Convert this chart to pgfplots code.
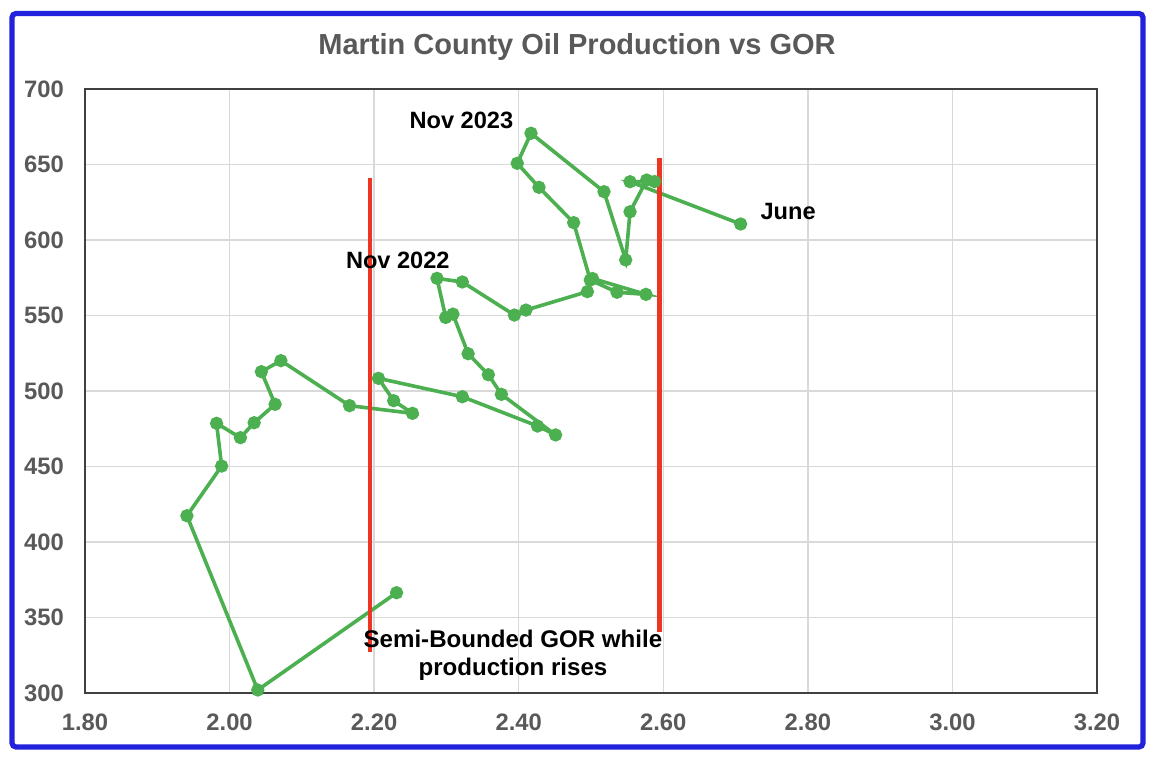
\documentclass[border=0pt]{standalone}
\usepackage{fontspec}
\setmainfont{Liberation Sans}
\usepackage{pgfplots}
\pgfplotsset{compat=1.18}
\definecolor{gorgreen}{HTML}{4CAF50}
\definecolor{barred}{HTML}{EE3524}
\definecolor{frameblue}{HTML}{2222DD}
\definecolor{ticktext}{HTML}{595959}
\definecolor{gridgray}{HTML}{D9D9D9}

\begin{document}
\begin{tikzpicture}
% page size: 1156x762 px at 0.5pt per px, axis origin at px (85,693)
\useasboundingbox (-42.5pt,-34.5pt) rectangle (535.5pt,346.5pt);
\begin{axis}[
    scale only axis,
    width=506pt, height=302pt,
    xmin=1.80, xmax=3.20,
    ymin=300, ymax=700,
    xtick={1.8,2.0,...,3.21},
    ytick={300,350,...,700},
    /pgf/number format/assume math mode=true,
    xticklabel style={/pgf/number format/.cd,fixed,fixed zerofill,precision=2,/tikz/.cd,
        font=\bfseries\fontsize{11.9}{13}\selectfont, text=ticktext, yshift=-7pt},
    yticklabel style={font=\bfseries\fontsize{11.9}{13}\selectfont, text=ticktext, xshift=-7pt},
    major tick length=0pt,
    grid=major,
    grid style={gridgray, line width=0.75pt},
    axis line style={black!75, line width=0.7pt},
    clip=false,
]
% GOR vs oil production, monthly path ending June
\addplot[gorgreen, line width=1.8pt, mark=*, mark size=2.4pt,
         mark options={fill=gorgreen, draw=gorgreen}] coordinates {
 (2.231,366.4) (2.039,302.0) (1.941,417.4) (1.989,450.3) (1.982,478.6)
 (2.015,469.1) (2.034,479.0) (2.063,491.2) (2.044,512.8) (2.071,520.1)
 (2.166,490.3) (2.253,485.2) (2.227,493.6) (2.206,508.4) (2.322,496.2)
 (2.426,476.8) (2.451,470.9) (2.376,497.8) (2.358,510.8) (2.330,524.7)
 (2.309,550.9) (2.299,548.7) (2.287,574.6) (2.322,572.2) (2.394,550.3)
 (2.410,553.6) (2.495,565.8) (2.502,574.5) (2.576,564.0) (2.536,565.4)
 (2.499,573.5) (2.476,611.5) (2.428,634.9) (2.398,650.8) (2.417,670.7)
 (2.518,632.0) (2.548,586.8) (2.554,618.7) (2.577,639.7) (2.588,638.7)
 (2.554,638.6) (2.707,610.6)
};
% bounding GOR lines
\addplot[barred, line width=2.3pt] coordinates {(2.194,327.3) (2.194,641.0)};
\addplot[barred, line width=2.3pt] coordinates {(2.595,340.6) (2.595,654.1)};

\node[anchor=east, inner sep=0pt, font=\bfseries\fontsize{11.8}{13}\selectfont] at (axis cs:2.393,679.5) {Nov 2023};
\node[anchor=east, inner sep=0pt, font=\bfseries\fontsize{11.8}{13}\selectfont] at (axis cs:2.305,586.7) {Nov 2022};
\node[anchor=west, inner sep=0pt, font=\bfseries\fontsize{11.8}{13}\selectfont] at (axis cs:2.734,619.2) {June};
\node[align=center, inner sep=0pt, font=\bfseries\fontsize{12.05}{14}\selectfont] at (axis cs:2.392,325) {Semi-Bounded GOR while\\production rises};
\end{axis}
\node[font=\bfseries\fontsize{14.5}{16}\selectfont, text=ticktext] at (246pt,323pt) {Martin County Oil Production vs GOR};
\draw[frameblue, line width=2.6pt, rounded corners=2pt] (-36.5pt,-27pt) rectangle (529pt,339.75pt);
\end{tikzpicture}
\end{document}
